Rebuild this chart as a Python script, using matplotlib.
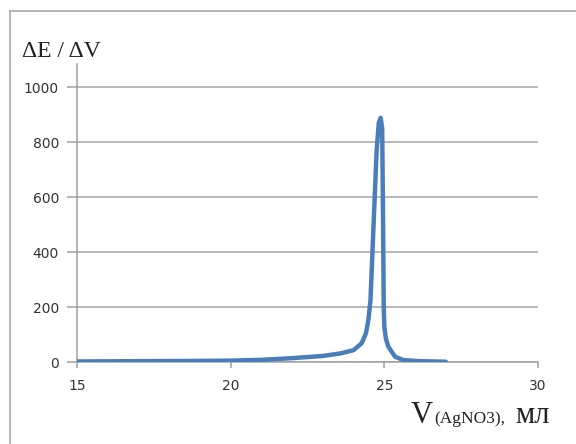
import numpy as np
import matplotlib
matplotlib.use("Agg")
import matplotlib.pyplot as plt
from matplotlib.lines import Line2D

# Titration curve dE/dV vs V(AgNO3)
volume = [15, 17, 19, 20, 21, 22, 23, 23.56, 24.0, 24.26, 24.40, 24.48,
          24.55, 24.65, 24.75, 24.82, 24.88, 24.93, 24.96, 24.98, 25.0,
          25.05, 25.13, 25.35, 25.62, 26.16, 27]
dE_dV = [2, 3, 4, 5, 8, 14, 22, 31, 43, 68, 104, 152,
         225, 500, 770, 870, 888, 850, 500, 200, 128,
         85, 56, 19, 7, 3, 1]

x_ticks = [15, 20, 25, 30]
y_ticks = [0, 200, 400, 600, 800, 1000]

W, H = 576, 444
fig = plt.figure(figsize=(W / 100, H / 100), dpi=100)
ax = fig.add_axes([77 / W, 1 - 362 / H, (538 - 77) / W, (362 - 64) / H])

ax.plot(volume, dE_dV, color="#4a7ebb", linewidth=3.2,
        solid_joinstyle="round", solid_capstyle="round", zorder=3)

ax.set_xlim(15, 30)
ax.set_ylim(0, 1084)
ax.set_xticks(x_ticks)
ax.set_yticks(y_ticks)
ax.grid(axis="y", color="#a6a6a6", linewidth=1.1)
ax.set_axisbelow(True)
for s in ("top", "right"):
    ax.spines[s].set_visible(False)
for s in ("left", "bottom"):
    ax.spines[s].set_color("#a0a0a0")
    ax.spines[s].set_linewidth(1.1)
ax.tick_params(axis="both", direction="out", color="#a0a0a0", width=1.1,
               labelsize=10, labelcolor="#333333")
ax.tick_params(axis="y", length=7, pad=6)
ax.tick_params(axis="x", length=4, pad=8)

# y label at top-left, x label at lower right
fig.text(22 / W, 1 - 57 / H, "ΔE / ΔV", family="Liberation Serif",
         fontsize=17, color="#222222", ha="left", va="baseline")
fig.text(411 / W, 1 - 423 / H, "V", family="Liberation Serif",
         fontsize=22, color="#222222", ha="left", va="baseline")
fig.text(434 / W, 1 - 423 / H, "(AgNO3),", family="Liberation Serif",
         fontsize=12.5, color="#222222", ha="left", va="baseline")
fig.text(515 / W, 1 - 423 / H, "мл", family="Liberation Serif",
         fontsize=22, color="#222222", ha="left", va="baseline")

# outer chart border (top and left edges visible)
fig.add_artist(Line2D([10 / W, 10 / W], [0, 1 - 11 / H],
                      transform=fig.transFigure, color="#a8a8a8", lw=1.2))
fig.add_artist(Line2D([10 / W, 1], [1 - 11 / H, 1 - 11 / H],
                      transform=fig.transFigure, color="#a8a8a8", lw=1.2))

fig.savefig("out.png", dpi=100)
